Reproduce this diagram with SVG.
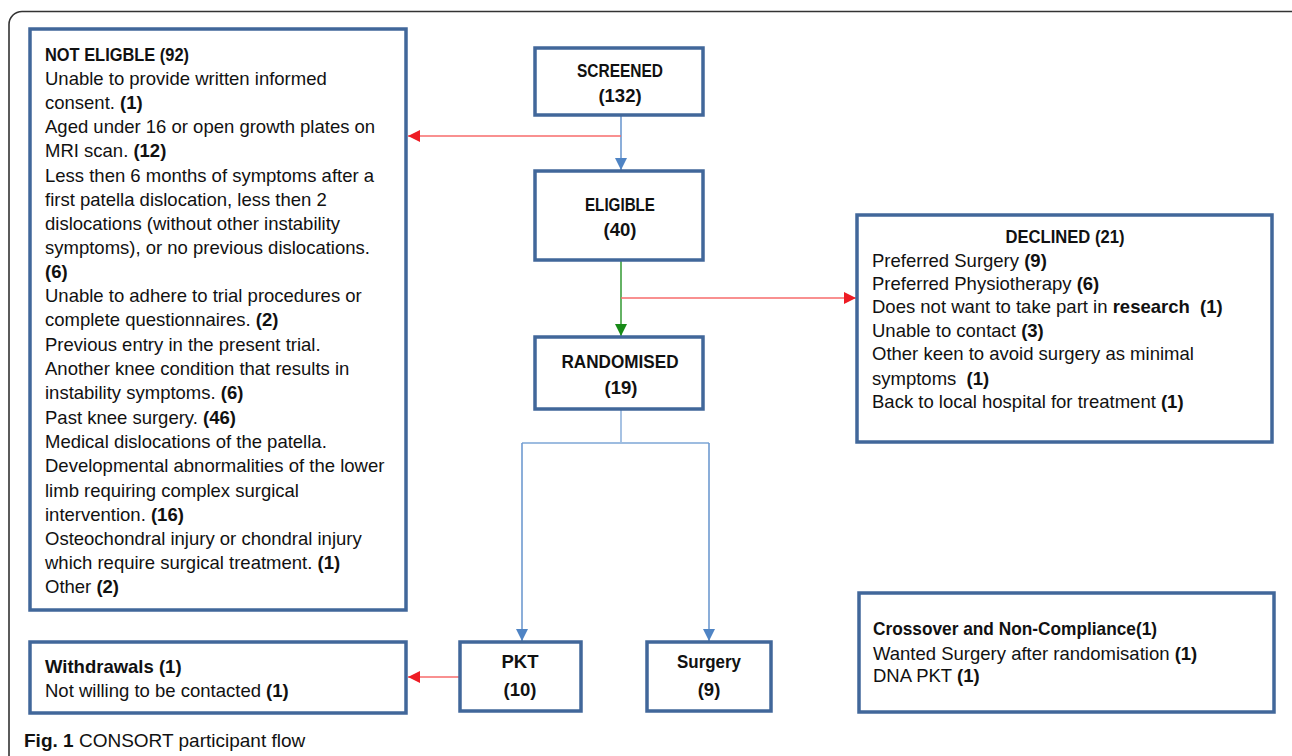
<svg xmlns="http://www.w3.org/2000/svg" width="1292" height="756" viewBox="0 0 1292 756">
<style>
.box{fill:#fff;stroke:#41679a;stroke-width:3.5}
text{font-family:"Liberation Sans",Arial,sans-serif;font-size:18.5px;fill:#111}
.b{font-weight:bold}
.c{text-anchor:middle}
.blue{stroke:#6f9ad0;stroke-width:1.6;fill:none}
.lblue{stroke:#9dbce0;stroke-width:1.8;fill:none}
.red{stroke:#f76b6b;stroke-width:1.6;fill:none}
.green{stroke:#3e9f3e;stroke-width:1.6;fill:none}
</style>
<defs>
<marker id="ab" viewBox="0 0 10 10" refX="10" refY="5" markerWidth="12" markerHeight="12" markerUnits="userSpaceOnUse" orient="auto"><path d="M0,0 L10,5 L0,10 z" fill="#4f84c4"/></marker>
<marker id="ar" viewBox="0 0 10 10" refX="10" refY="5" markerWidth="12" markerHeight="12" markerUnits="userSpaceOnUse" orient="auto"><path d="M0,0 L10,5 L0,10 z" fill="#ee1c24"/></marker>
<marker id="ag" viewBox="0 0 10 10" refX="10" refY="5" markerWidth="12" markerHeight="12" markerUnits="userSpaceOnUse" orient="auto"><path d="M0,0 L10,5 L0,10 z" fill="#178a17"/></marker>
</defs>
<rect width="1292" height="756" fill="#fff"/>
<rect x="9" y="11.5" width="1300" height="800" rx="13" fill="none" stroke="#333" stroke-width="1.6"/>

<g id="connectors">
<line class="blue" x1="621" y1="115" x2="621" y2="170" marker-end="url(#ab)"/>
<line class="red" x1="621" y1="136" x2="408" y2="136" marker-end="url(#ar)"/>
<line class="green" x1="621" y1="260" x2="621" y2="336" marker-end="url(#ag)"/>
<line class="red" x1="621" y1="298" x2="856" y2="298" marker-end="url(#ar)"/>
<polyline class="lblue" points="621,409 621,443"/>
<polyline class="lblue" points="522,443 709,443"/>
<line class="blue" x1="522" y1="443" x2="522" y2="641" marker-end="url(#ab)"/>
<line class="blue" x1="709" y1="443" x2="709" y2="641" marker-end="url(#ab)"/>
<line class="red" x1="459" y1="677" x2="408" y2="677" marker-end="url(#ar)"/>
</g>

<g id="not-eligible">
<rect class="box" x="30" y="29" width="376" height="581"/>
<text x="45" y="61" class="b" textLength="144" lengthAdjust="spacingAndGlyphs">NOT ELIGBLE (92)</text>
<text x="45" y="85">Unable to provide written informed</text>
<text x="45" y="109">consent. <tspan class="b">(1)</tspan></text>
<text x="45" y="133">Aged under 16 or open growth plates on</text>
<text x="45" y="157">MRI scan. <tspan class="b">(12)</tspan></text>
<text x="45" y="182">Less then 6 months of symptoms after a</text>
<text x="45" y="206">first patella dislocation, less then 2</text>
<text x="45" y="230">dislocations (without other instability</text>
<text x="45" y="254">symptoms), or no previous dislocations.</text>
<text x="45" y="278" class="b">(6)</text>
<text x="45" y="302">Unable to adhere to trial procedures or</text>
<text x="45" y="326">complete questionnaires. <tspan class="b">(2)</tspan></text>
<text x="45" y="351">Previous entry in the present trial.</text>
<text x="45" y="375">Another knee condition that results in</text>
<text x="45" y="399">instability symptoms. <tspan class="b">(6)</tspan></text>
<text x="45" y="424">Past knee surgery. <tspan class="b">(46)</tspan></text>
<text x="45" y="448">Medical dislocations of the patella.</text>
<text x="45" y="472">Developmental abnormalities of the lower</text>
<text x="45" y="497">limb requiring complex surgical</text>
<text x="45" y="521">intervention. <tspan class="b">(16)</tspan></text>
<text x="45" y="545">Osteochondral injury or chondral injury</text>
<text x="45" y="569">which require surgical treatment. <tspan class="b">(1)</tspan></text>
<text x="45" y="593">Other <tspan class="b">(2)</tspan></text>
</g>

<g id="screened">
<rect class="box" x="535" y="48" width="168" height="67"/>
<text x="620" y="77" class="b c" textLength="86" lengthAdjust="spacingAndGlyphs">SCREENED</text>
<text x="620" y="102" class="b c">(132)</text>
</g>

<g id="eligible">
<rect class="box" x="535" y="171" width="168" height="89"/>
<text x="620" y="211" class="b c" textLength="70" lengthAdjust="spacingAndGlyphs">ELIGIBLE</text>
<text x="620" y="236" class="b c">(40)</text>
</g>

<g id="randomised">
<rect class="box" x="535" y="337" width="168" height="72"/>
<text x="620" y="368" class="b c" textLength="117" lengthAdjust="spacingAndGlyphs">RANDOMISED</text>
<text x="621" y="394" class="b c">(19)</text>
</g>

<g id="declined">
<rect class="box" x="857" y="215" width="415" height="227"/>
<text x="1065" y="243" class="b c" textLength="119" lengthAdjust="spacingAndGlyphs">DECLINED (21)</text>
<text x="872" y="267">Preferred Surgery <tspan class="b">(9)</tspan></text>
<text x="872" y="290">Preferred Physiotherapy <tspan class="b">(6)</tspan></text>
<text x="872" y="313" xml:space="preserve">Does not want to take part in <tspan class="b">research  (1)</tspan></text>
<text x="872" y="337">Unable to contact <tspan class="b">(3)</tspan></text>
<text x="872" y="360">Other keen to avoid surgery as minimal</text>
<text x="872" y="385" xml:space="preserve">symptoms  <tspan class="b">(1)</tspan></text>
<text x="872" y="408">Back to local hospital for treatment <tspan class="b">(1)</tspan></text>
</g>

<g id="withdrawals">
<rect class="box" x="30" y="642" width="376" height="71"/>
<text x="45" y="673" class="b">Withdrawals (1)</text>
<text x="45" y="697">Not willing to be contacted <tspan class="b">(1)</tspan></text>
</g>

<g id="pkt">
<rect class="box" x="460" y="642" width="121" height="69"/>
<text x="520" y="668" class="b c">PKT</text>
<text x="520" y="696" class="b c">(10)</text>
</g>

<g id="surgery">
<rect class="box" x="647" y="642" width="124" height="69"/>
<text x="709" y="668" class="b c" textLength="64" lengthAdjust="spacingAndGlyphs">Surgery</text>
<text x="709" y="696" class="b c">(9)</text>
</g>

<g id="crossover">
<rect class="box" x="859" y="593" width="415" height="119"/>
<text x="873" y="635" class="b" textLength="284" lengthAdjust="spacingAndGlyphs">Crossover and Non-Compliance(1)</text>
<text x="873" y="660">Wanted Surgery after randomisation <tspan class="b">(1)</tspan></text>
<text x="873" y="682">DNA PKT <tspan class="b">(1)</tspan></text>
</g>

<text x="24" y="747" style="font-size:19px"><tspan class="b">Fig. 1</tspan> CONSORT participant flow</text>
</svg>
